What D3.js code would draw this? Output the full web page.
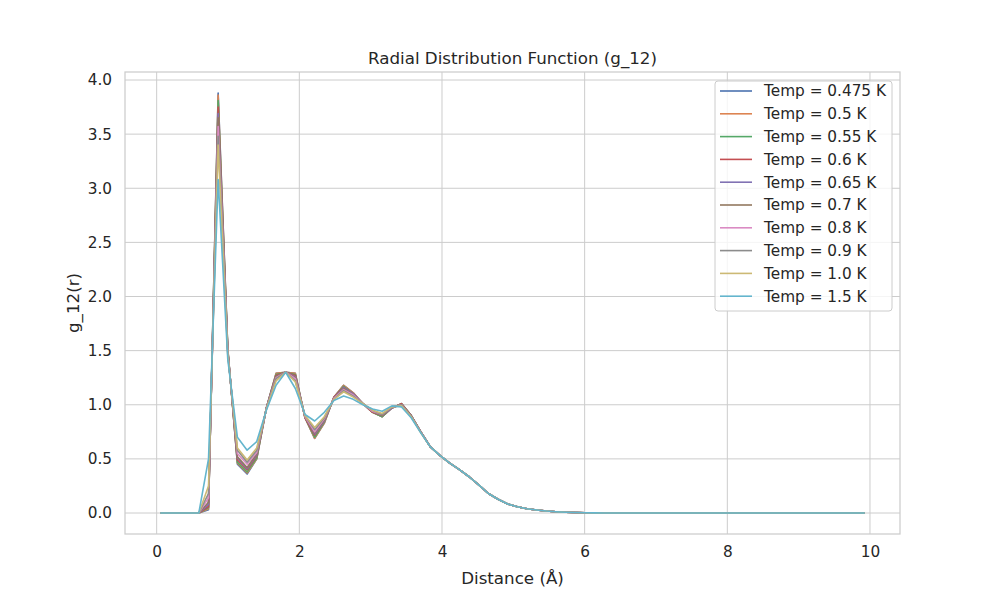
<!DOCTYPE html>
<html>
<head>
<meta charset="utf-8">
<script src="https://cdn.jsdelivr.net/npm/d3@7"></script>
<style>
  body { margin: 0; background: #fff; }
  text { font-family: "DejaVu Sans", sans-serif; fill: #262626; }
</style>
</head>
<body>
<script>
//-------Data------
var distance = [0.050, 0.185, 0.321, 0.456, 0.591, 0.727, 0.862, 0.997, 1.132, 1.268,
  1.403, 1.538, 1.674, 1.809, 1.944, 2.080, 2.215, 2.350, 2.485, 2.621,
  2.756, 2.891, 3.027, 3.162, 3.297, 3.433, 3.568, 3.703, 3.838, 3.974,
  4.109, 4.244, 4.380, 4.515, 4.650, 4.786, 4.921, 5.056, 5.191, 5.327,
  5.462, 5.597, 5.733, 5.868, 6.003, 6.139, 6.274, 6.409, 6.544, 6.680,
  6.815, 6.950, 7.086, 7.221, 7.356, 7.492, 7.627, 7.762, 7.897, 8.033,
  8.168, 8.303, 8.439, 8.574, 8.709, 8.845, 8.980, 9.115, 9.250, 9.386,
  9.521, 9.656, 9.792, 9.927];

var temps = ['0.475', '0.5', '0.55', '0.6', '0.65', '0.7', '0.8', '0.9', '1.0', '1.5'];

// the tail (r > 3.9) is the same for every temperature
var g_0475 = [0, 0, 0, 0, 0, 0.03, 3.88, 1.52, 0.45, 0.36, 0.50, 0.97, 1.29, 1.30, 1.29, 0.88, 0.69, 0.83, 1.07, 1.18,
  1.11, 1.01, 0.93, 0.89, 0.97, 1.01, 0.90, 0.75, 0.61, 0.53, 0.46, 0.40, 0.335, 0.26, 0.18, 0.127, 0.083, 0.058, 0.04, 0.028,
  0.018, 0.012, 0.007, 0.004, 0.002, 0.001, 0, 0, 0, 0, 0, 0, 0, 0, 0, 0, 0, 0, 0, 0, 0, 0, 0, 0, 0, 0, 0, 0, 0, 0, 0, 0, 0, 0];
var g_05 = [0, 0, 0, 0, 0, 0.04, 3.86, 1.52, 0.46, 0.37, 0.50, 0.97, 1.29, 1.30, 1.29, 0.88, 0.69, 0.83, 1.07, 1.18,
  1.11, 1.01, 0.93, 0.89, 0.97, 1.01, 0.90, 0.75, 0.61, 0.53, 0.46, 0.40, 0.335, 0.26, 0.18, 0.127, 0.083, 0.058, 0.04, 0.028,
  0.018, 0.012, 0.007, 0.004, 0.002, 0.001, 0, 0, 0, 0, 0, 0, 0, 0, 0, 0, 0, 0, 0, 0, 0, 0, 0, 0, 0, 0, 0, 0, 0, 0, 0, 0, 0, 0];
var g_055 = [0, 0, 0, 0, 0, 0.05, 3.81, 1.51, 0.47, 0.38, 0.51, 0.97, 1.28, 1.30, 1.28, 0.88, 0.70, 0.84, 1.07, 1.17,
  1.10, 1.01, 0.93, 0.89, 0.97, 1.01, 0.90, 0.75, 0.61, 0.53, 0.46, 0.40, 0.335, 0.26, 0.18, 0.127, 0.083, 0.058, 0.04, 0.028,
  0.018, 0.012, 0.007, 0.004, 0.002, 0.001, 0, 0, 0, 0, 0, 0, 0, 0, 0, 0, 0, 0, 0, 0, 0, 0, 0, 0, 0, 0, 0, 0, 0, 0, 0, 0, 0, 0];
var g_06 = [0, 0, 0, 0, 0, 0.06, 3.75, 1.50, 0.49, 0.40, 0.53, 0.97, 1.27, 1.30, 1.27, 0.88, 0.72, 0.85, 1.07, 1.16,
  1.10, 1.01, 0.93, 0.90, 0.97, 1.01, 0.90, 0.75, 0.61, 0.53, 0.46, 0.40, 0.335, 0.26, 0.18, 0.127, 0.083, 0.058, 0.04, 0.028,
  0.018, 0.012, 0.007, 0.004, 0.002, 0.001, 0, 0, 0, 0, 0, 0, 0, 0, 0, 0, 0, 0, 0, 0, 0, 0, 0, 0, 0, 0, 0, 0, 0, 0, 0, 0, 0, 0];
var g_065 = [0, 0, 0, 0, 0, 0.08, 3.69, 1.50, 0.51, 0.41, 0.54, 0.97, 1.26, 1.30, 1.26, 0.89, 0.73, 0.85, 1.06, 1.16,
  1.10, 1.01, 0.94, 0.90, 0.97, 1.00, 0.90, 0.75, 0.61, 0.53, 0.46, 0.40, 0.335, 0.26, 0.18, 0.127, 0.083, 0.058, 0.04, 0.028,
  0.018, 0.012, 0.007, 0.004, 0.002, 0.001, 0, 0, 0, 0, 0, 0, 0, 0, 0, 0, 0, 0, 0, 0, 0, 0, 0, 0, 0, 0, 0, 0, 0, 0, 0, 0, 0, 0];
var g_07 = [0, 0, 0, 0, 0, 0.10, 3.65, 1.49, 0.52, 0.42, 0.55, 0.96, 1.26, 1.30, 1.25, 0.89, 0.74, 0.86, 1.06, 1.15,
  1.09, 1.01, 0.94, 0.90, 0.98, 1.00, 0.90, 0.75, 0.61, 0.53, 0.46, 0.40, 0.335, 0.26, 0.18, 0.127, 0.083, 0.058, 0.04, 0.028,
  0.018, 0.012, 0.007, 0.004, 0.002, 0.001, 0, 0, 0, 0, 0, 0, 0, 0, 0, 0, 0, 0, 0, 0, 0, 0, 0, 0, 0, 0, 0, 0, 0, 0, 0, 0, 0, 0];
var g_08 = [0, 0, 0, 0, 0, 0.14, 3.57, 1.48, 0.55, 0.45, 0.56, 0.96, 1.25, 1.30, 1.24, 0.89, 0.75, 0.87, 1.06, 1.14,
  1.09, 1.01, 0.94, 0.91, 0.98, 1.00, 0.89, 0.75, 0.61, 0.53, 0.46, 0.40, 0.335, 0.26, 0.18, 0.127, 0.083, 0.058, 0.04, 0.028,
  0.018, 0.012, 0.007, 0.004, 0.002, 0.001, 0, 0, 0, 0, 0, 0, 0, 0, 0, 0, 0, 0, 0, 0, 0, 0, 0, 0, 0, 0, 0, 0, 0, 0, 0, 0, 0, 0];
var g_09 = [0, 0, 0, 0, 0, 0.18, 3.48, 1.47, 0.58, 0.47, 0.58, 0.96, 1.24, 1.30, 1.22, 0.90, 0.77, 0.88, 1.05, 1.13,
  1.08, 1.01, 0.95, 0.91, 0.98, 1.00, 0.89, 0.75, 0.61, 0.53, 0.46, 0.40, 0.335, 0.26, 0.18, 0.127, 0.083, 0.058, 0.04, 0.028,
  0.018, 0.012, 0.007, 0.004, 0.002, 0.001, 0, 0, 0, 0, 0, 0, 0, 0, 0, 0, 0, 0, 0, 0, 0, 0, 0, 0, 0, 0, 0, 0, 0, 0, 0, 0, 0, 0];
var g_10 = [0, 0, 0, 0, 0, 0.25, 3.40, 1.46, 0.60, 0.49, 0.60, 0.96, 1.22, 1.30, 1.21, 0.90, 0.79, 0.89, 1.05, 1.12,
  1.07, 1.01, 0.95, 0.92, 0.98, 0.99, 0.89, 0.74, 0.61, 0.53, 0.46, 0.40, 0.335, 0.26, 0.18, 0.127, 0.083, 0.058, 0.04, 0.028,
  0.018, 0.012, 0.007, 0.004, 0.002, 0.001, 0, 0, 0, 0, 0, 0, 0, 0, 0, 0, 0, 0, 0, 0, 0, 0, 0, 0, 0, 0, 0, 0, 0, 0, 0, 0, 0, 0];
var g_15 = [0, 0, 0, 0, 0, 0.50, 3.08, 1.42, 0.70, 0.58, 0.66, 0.95, 1.18, 1.30, 1.15, 0.91, 0.85, 0.93, 1.04, 1.08,
  1.05, 1.00, 0.96, 0.94, 0.99, 0.98, 0.88, 0.74, 0.61, 0.53, 0.46, 0.40, 0.335, 0.26, 0.18, 0.127, 0.083, 0.058, 0.04, 0.028,
  0.018, 0.012, 0.007, 0.004, 0.002, 0.001, 0, 0, 0, 0, 0, 0, 0, 0, 0, 0, 0, 0, 0, 0, 0, 0, 0, 0, 0, 0, 0, 0, 0, 0, 0, 0, 0, 0];

var xTicks = [0, 2, 4, 6, 8, 10];
var yTicks = [0, 0.5, 1.0, 1.5, 2.0, 2.5, 3.0, 3.5, 4.0];

var series = [g_0475, g_05, g_055, g_06, g_065, g_07, g_08, g_09, g_10, g_15];
var colors = ['#4c72b0', '#dd8452', '#55a868', '#c44e52', '#8172b3',
              '#937860', '#da8bc3', '#8c8c8c', '#ccb974', '#64b5cd'];

//-------Layout------
var W = 1000, H = 600;
var m = { left: 125, right: 100, top: 72, bottom: 66 };
var iw = W - m.left - m.right, ih = H - m.top - m.bottom;

var svg = d3.select('body').append('svg')
  .attr('width', W).attr('height', H);

// matplotlib style 5% margins
var xmin = d3.min(distance), xmax = d3.max(distance);
var ymax = d3.max(series, function (s) { return d3.max(s); });
var xpad = (xmax - xmin) * 0.05, ypad = ymax * 0.05;

var x = d3.scaleLinear().domain([xmin - xpad, xmax + xpad]).range([m.left, m.left + iw]);
var y = d3.scaleLinear().domain([0 - ypad, ymax + ypad]).range([m.top + ih, m.top]);

// grid
var grid = svg.append('g');
grid.selectAll('.gx').data(xTicks).enter().append('line')
  .attr('x1', function (d) { return x(d); }).attr('x2', function (d) { return x(d); })
  .attr('y1', m.top).attr('y2', m.top + ih)
  .attr('stroke', '#cccccc').attr('stroke-width', 1);
grid.selectAll('.gy').data(yTicks).enter().append('line')
  .attr('y1', function (d) { return y(d); }).attr('y2', function (d) { return y(d); })
  .attr('x1', m.left).attr('x2', m.left + iw)
  .attr('stroke', '#cccccc').attr('stroke-width', 1);

// axes (tick labels only, seaborn whitegrid has no tick marks)
var xAxis = svg.append('g')
  .attr('transform', 'translate(0,' + (m.top + ih) + ')')
  .call(d3.axisBottom(x).tickValues(xTicks).tickFormat(d3.format('d')).tickSize(0).tickPadding(12));
var yAxis = svg.append('g')
  .attr('transform', 'translate(' + m.left + ',0)')
  .call(d3.axisLeft(y).tickValues(yTicks).tickFormat(d3.format('.1f')).tickSize(0).tickPadding(13));
[xAxis, yAxis].forEach(function (a) {
  a.select('.domain').remove();
  a.selectAll('text').attr('font-size', '15.3px')
    .attr('font-family', '"DejaVu Sans", sans-serif').attr('fill', '#262626');
});

// lines
var line = d3.line()
  .x(function (d, i) { return x(distance[i]); })
  .y(function (d) { return y(d); });

svg.append('g').selectAll('path')
  .data(series).enter().append('path')
  .attr('d', line)
  .attr('fill', 'none')
  .attr('stroke', function (d, i) { return colors[i]; })
  .attr('stroke-width', 1.6)
  .attr('stroke-linejoin', 'round');

// frame
svg.append('rect')
  .attr('x', m.left).attr('y', m.top).attr('width', iw).attr('height', ih)
  .attr('fill', 'none').attr('stroke', '#cccccc').attr('stroke-width', 1.25);

// titles
svg.append('text')
  .attr('x', m.left + iw / 2).attr('y', m.top - 8)
  .attr('text-anchor', 'middle').attr('font-size', '16.7px')
  .text('Radial Distribution Function (g_12)');
svg.append('text')
  .attr('x', m.left + iw / 2).attr('y', 584)
  .attr('text-anchor', 'middle').attr('font-size', '16.7px')
  .text('Distance (Å)');
svg.append('text')
  .attr('transform', 'translate(79,' + (m.top + ih / 2) + ') rotate(-90)')
  .attr('text-anchor', 'middle').attr('font-size', '16.7px')
  .text('g_12(r)');

//-------Legend------
var lg = svg.append('g').attr('transform', 'translate(715,81)');
lg.append('rect')
  .attr('width', 177).attr('height', 230).attr('rx', 3)
  .attr('fill', 'white').attr('fill-opacity', 0.8)
  .attr('stroke', '#cccccc').attr('stroke-width', 1);
var rows = lg.selectAll('.row').data(temps).enter().append('g')
  .attr('transform', function (d, i) { return 'translate(0,' + (10 + i * 22.8) + ')'; });
rows.append('line')
  .attr('x1', 5).attr('x2', 37)
  .attr('stroke', function (d, i) { return colors[i]; }).attr('stroke-width', 1.6);
rows.append('text')
  .attr('x', 49).attr('dy', '0.35em').attr('font-size', '15.3px')
  .text(function (d) { return 'Temp = ' + d + ' K'; });
</script>
</body>
</html>
